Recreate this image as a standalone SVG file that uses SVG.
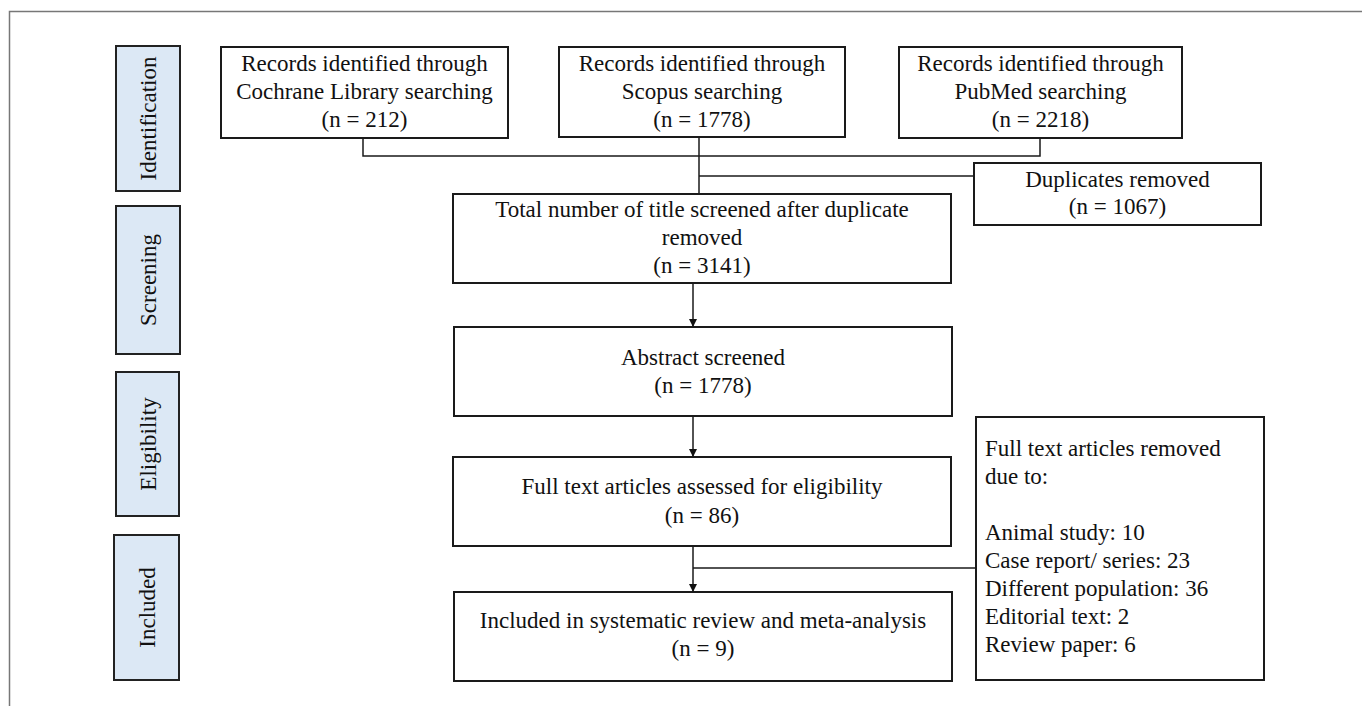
<svg xmlns="http://www.w3.org/2000/svg" width="1362" height="706" viewBox="0 0 1362 706">
  <defs>
    <marker id="arrow" viewBox="0 0 10 10" refX="10" refY="5" markerWidth="8" markerHeight="8" markerUnits="userSpaceOnUse" orient="auto">
      <path d="M0,0 L10,5 L0,10 z" fill="#111"/>
    </marker>
  </defs>
  <style>
    .box { fill: #ffffff; stroke: #1a1a1a; stroke-width: 2; }
    .phase { fill: #dce8f5; stroke: #222222; stroke-width: 2; }
    .t { font-family: "Liberation Serif", "Times New Roman", serif; font-size: 23px; fill: #111111; text-anchor: middle; }
    .tl { font-family: "Liberation Serif", "Times New Roman", serif; font-size: 23px; fill: #111111; text-anchor: start; }
    .conn { fill: none; stroke: #1a1a1a; stroke-width: 1.5; }
    .frame { fill: none; stroke: #777777; stroke-width: 1.5; }
  </style>
  <rect width="1362" height="706" fill="#ffffff"/>
  <path class="frame" d="M9.5,706 L9.5,11.5 L1362,11.5"/>

  <g id="phase-identification">
    <rect class="phase" x="116" y="46" width="64" height="145"/>
    <text class="t" transform="translate(156,118.5) rotate(-90)">Identification</text>
  </g>
  <g id="phase-screening">
    <rect class="phase" x="116" y="206" width="64" height="148"/>
    <text class="t" transform="translate(156,280) rotate(-90)">Screening</text>
  </g>
  <g id="phase-eligibility">
    <rect class="phase" x="116" y="372" width="63" height="144"/>
    <text class="t" transform="translate(155.5,444) rotate(-90)">Eligibility</text>
  </g>
  <g id="phase-included">
    <rect class="phase" x="114" y="535" width="65" height="145"/>
    <text class="t" transform="translate(154.5,607.5) rotate(-90)">Included</text>
  </g>

  <g id="cochrane">
    <rect class="box" x="221" y="47" width="287" height="91"/>
    <text class="t" x="364.5" y="71">Records identified through</text>
    <text class="t" x="364.5" y="99">Cochrane Library searching</text>
    <text class="t" x="364.5" y="127">(n = 212)</text>
  </g>
  <g id="scopus">
    <rect class="box" x="559" y="47" width="286" height="90"/>
    <text class="t" x="702" y="71">Records identified through</text>
    <text class="t" x="702" y="99">Scopus searching</text>
    <text class="t" x="702" y="127">(n = 1778)</text>
  </g>
  <g id="pubmed">
    <rect class="box" x="899" y="47" width="283" height="91"/>
    <text class="t" x="1040.5" y="71">Records identified through</text>
    <text class="t" x="1040.5" y="99">PubMed searching</text>
    <text class="t" x="1040.5" y="127">(n = 2218)</text>
  </g>
  <g id="duplicates">
    <rect class="box" x="974" y="163" width="287" height="62"/>
    <text class="t" x="1117.5" y="187">Duplicates removed</text>
    <text class="t" x="1117.5" y="214">(n = 1067)</text>
  </g>
  <g id="total">
    <rect class="box" x="453" y="194" width="498" height="89"/>
    <text class="t" x="702" y="217">Total number of title screened after duplicate</text>
    <text class="t" x="702" y="245">removed</text>
    <text class="t" x="702" y="273">(n = 3141)</text>
  </g>
  <g id="abstract">
    <rect class="box" x="454" y="327" width="498" height="89"/>
    <text class="t" x="703" y="365">Abstract screened</text>
    <text class="t" x="703" y="393">(n = 1778)</text>
  </g>
  <g id="fulltext">
    <rect class="box" x="453" y="457" width="498" height="89"/>
    <text class="t" x="702" y="494">Full text articles assessed for eligibility</text>
    <text class="t" x="702" y="523">(n = 86)</text>
  </g>
  <g id="included">
    <rect class="box" x="454" y="592" width="498" height="89"/>
    <text class="t" x="703" y="628">Included in systematic review and meta-analysis</text>
    <text class="t" x="703" y="656">(n = 9)</text>
  </g>
  <g id="excluded">
    <rect class="box" x="976" y="417" width="288" height="263"/>
    <text class="tl" x="985" y="456">Full text articles removed</text>
    <text class="tl" x="985" y="484">due to:</text>
    <text class="tl" x="985" y="540">Animal study: 10</text>
    <text class="tl" x="985" y="568">Case report/ series: 23</text>
    <text class="tl" x="985" y="596">Different population: 36</text>
    <text class="tl" x="985" y="624">Editorial text: 2</text>
    <text class="tl" x="985" y="652">Review paper: 6</text>
  </g>

  <g id="connectors">
    <path class="conn" d="M363,138 L363,156 L1040,156 L1040,138"/>
    <path class="conn" d="M699,137 L699,193"/>
    <path class="conn" d="M699,176 L974,176"/>
    <path class="conn" d="M693,283 L693,327" marker-end="url(#arrow)"/>
    <path class="conn" d="M693,416 L693,457" marker-end="url(#arrow)"/>
    <path class="conn" d="M693,546 L693,592" marker-end="url(#arrow)"/>
    <path class="conn" d="M693,568 L976,568"/>
  </g>
</svg>
